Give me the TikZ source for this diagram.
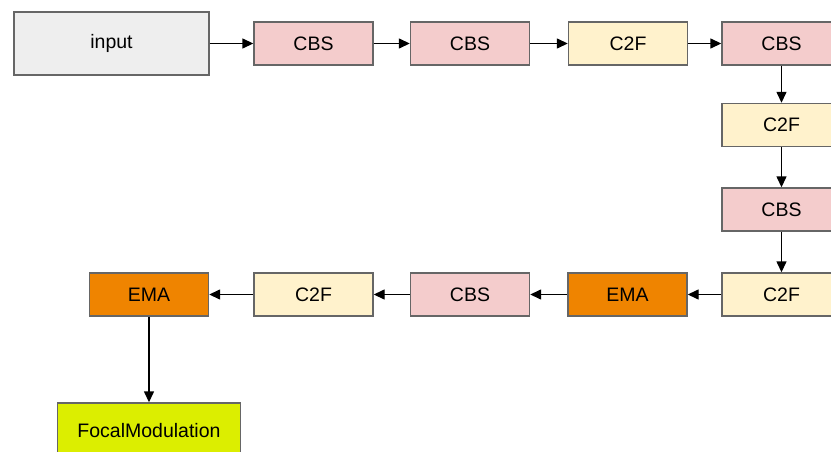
\documentclass[tikz,border=0pt]{standalone}
\usepackage{fontspec}
\setmainfont{Liberation Sans}
\usetikzlibrary{arrows.meta}
\definecolor{boxline}{HTML}{666666}
\definecolor{inputfill}{HTML}{EEEEEE}
\definecolor{cbsfill}{HTML}{F4CCCC}
\definecolor{ctwofill}{HTML}{FFF2CC}
\definecolor{emafill}{HTML}{EF8400}
\definecolor{focalfill}{HTML}{DCEE00}
\begin{document}
\begin{tikzpicture}[x=1pt,y=-1pt,
  block/.style={draw=boxline, line width=1.4pt, rectangle, inner sep=0pt,
    minimum width=119pt, minimum height=43pt, font=\fontsize{19.5}{21}\selectfont},
  cbs/.style={block, fill=cbsfill},
  ctwo/.style={block, fill=ctwofill},
  ema/.style={block, fill=emafill},
  flow/.style={line width=1.4pt, -{Triangle[length=11pt,width=10pt]}}]
\useasboundingbox (0,0) rectangle (831,452);
\clip (0,0) rectangle (831,452);
% top row
\node[block, fill=inputfill, minimum width=195pt, minimum height=63pt] (in) at (111.5,43.5) {input};
\node[cbs]  (cbsA) at (313.5,43.5) {CBS};
\node[cbs]  (cbsB) at (470,43.5) {CBS};
\node[ctwo] (c2fA) at (628,43.5) {C2F};
\node[cbs]  (cbsC) at (781.5,43.5) {CBS};
% right column
\node[ctwo] (c2fB) at (781.5,125) {C2F};
\node[cbs]  (cbsD) at (781.5,209.5) {CBS};
\node[ctwo] (c2fC) at (781.5,294.5) {C2F};
% bottom row
\node[ema]  (emaA) at (627.5,294.5) {EMA};
\node[cbs]  (cbsE) at (470,294.5) {CBS};
\node[ctwo] (c2fD) at (313.5,294.5) {C2F};
\node[ema]  (emaB) at (149,294.5) {EMA};
\node[block, fill=focalfill, minimum width=183pt, minimum height=56pt] (focal) at (149,431) {FocalModulation};
% connectors
\draw[flow] (in) -- (cbsA);
\draw[flow] (cbsA) -- (cbsB);
\draw[flow] (cbsB) -- (c2fA);
\draw[flow] (c2fA) -- (cbsC);
\draw[flow] (cbsC) -- (c2fB);
\draw[flow] (c2fB) -- (cbsD);
\draw[flow] (cbsD) -- (c2fC);
\draw[flow] (c2fC) -- (emaA);
\draw[flow] (emaA) -- (cbsE);
\draw[flow] (cbsE) -- (c2fD);
\draw[flow] (c2fD) -- (emaB);
\draw[flow] (emaB) -- (focal);
\end{tikzpicture}
\end{document}
